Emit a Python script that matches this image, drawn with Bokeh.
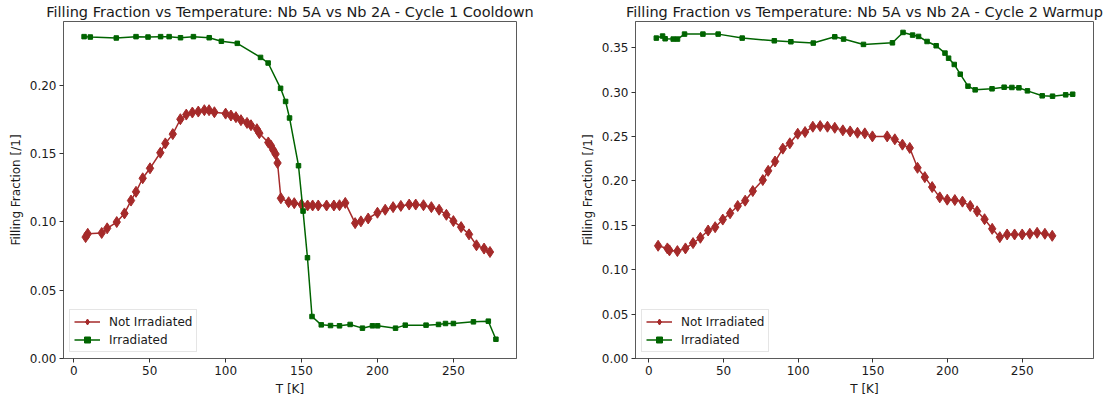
from bokeh.plotting import figure
from bokeh.layouts import row
from bokeh.models import Range1d, FixedTicker, NumeralTickFormatter, Legend, LegendItem
from bokeh.embed import file_html
from bokeh.resources import INLINE

# ---------------- data ----------------
# Cycle 1 Cooldown
c1_T_not_irr = [7.8, 9.2, 18.4, 22.0, 28.3, 33.4, 37.7, 41.0, 45.4, 50.2,
                57.0, 60.3, 65.2, 70.2, 74.1, 78.1, 82.0, 86.0, 89.1, 92.6,
                100.0, 103.5, 106.8, 110.1, 114.1, 116.7, 120.6, 122.2, 128.1, 129.8,
                131.4, 132.9, 134.2, 136.4, 141.5, 145.2, 150.0, 154.0, 157.3, 161.0,
                166.5, 171.3, 175.0, 178.8, 185.3, 189.1, 193.9, 200.0, 205.1, 210.3,
                215.4, 220.9, 225.2, 230.3, 235.5, 240.6, 245.4, 250.0, 255.1, 260.3,
                265.2, 270.2, 274.1]
c1_ff_not_irr = [0.0888, 0.0912, 0.0918, 0.0952, 0.0998, 0.1061, 0.1155, 0.1219, 0.1318, 0.1391,
                 0.1505, 0.1573, 0.1641, 0.1750, 0.1784, 0.1799, 0.1806, 0.1816, 0.1816, 0.1801,
                 0.1791, 0.1777, 0.1765, 0.1743, 0.1723, 0.1706, 0.1677, 0.1648, 0.1580, 0.1558,
                 0.1524, 0.1495, 0.1430, 0.1172, 0.1143, 0.1136, 0.1126, 0.1119, 0.1119, 0.1119,
                 0.1119, 0.1119, 0.1121, 0.1138, 0.0990, 0.1003, 0.1024, 0.1066, 0.1088, 0.1107,
                 0.1116, 0.1126, 0.1126, 0.1121, 0.1107, 0.1088, 0.1051, 0.1005, 0.0961, 0.0908,
                 0.0828, 0.0804, 0.0779]
c1_T_irr = [6.8, 10.9, 28.0, 41.0, 48.9, 57.2, 62.8, 70.3, 78.8, 89.2,
            97.2, 107.7, 123.0, 128.0, 136.2, 139.5, 142.1, 148.0, 151.0, 153.9,
            156.9, 163.0, 169.1, 175.0, 182.0, 190.1, 196.7, 200.1, 211.9, 218.3,
            232.0, 240.2, 244.8, 250.0, 263.2, 273.0, 278.0]
c1_ff_irr = [0.2354, 0.2351, 0.2344, 0.2354, 0.2351, 0.2354, 0.2354, 0.2346, 0.2354, 0.2346,
             0.2320, 0.2305, 0.2202, 0.2161, 0.1976, 0.1880, 0.1759, 0.1410, 0.1078, 0.0737,
             0.0307, 0.0246, 0.0241, 0.0239, 0.0249, 0.0222, 0.0239, 0.0239, 0.0222, 0.0244,
             0.0244, 0.0249, 0.0256, 0.0256, 0.0268, 0.0273, 0.0141]

# Cycle 2 Warmup
c2_T_not_irr = [6.2, 12.4, 13.8, 19.1, 24.5, 29.6, 34.5, 39.7, 44.4, 49.5,
                54.4, 59.5, 64.5, 69.6, 76.3, 79.9, 84.5, 89.7, 94.4, 99.7,
                104.6, 109.8, 114.7, 119.6, 124.5, 129.9, 134.8, 139.7, 144.6, 149.7,
                159.6, 164.7, 169.8, 174.7, 179.9, 184.8, 189.7, 194.8, 199.8, 204.9,
                210.0, 215.2, 219.8, 224.8, 229.9, 235.0, 239.9, 244.9, 250.0, 255.1,
                260.0, 265.2, 270.1]
c2_ff_not_irr = [0.1270, 0.1240, 0.1218, 0.1210, 0.1240, 0.1300, 0.1360, 0.1442, 0.1479, 0.1565,
                 0.1636, 0.1718, 0.1778, 0.1886, 0.2010, 0.2114, 0.2219, 0.2364, 0.2424, 0.2532,
                 0.2551, 0.2611, 0.2618, 0.2611, 0.2599, 0.2570, 0.2558, 0.2543, 0.2536, 0.2502,
                 0.2502, 0.2469, 0.2409, 0.2372, 0.2148, 0.2043, 0.1931, 0.1815, 0.1789, 0.1785,
                 0.1767, 0.1718, 0.1658, 0.1569, 0.1461, 0.1367, 0.1397, 0.1397, 0.1397, 0.1405,
                 0.1416, 0.1405, 0.1382]
c2_T_irr = [5.0, 9.2, 10.9, 16.3, 19.2, 23.9, 36.2, 46.4, 62.5, 84.0,
            95.1, 110.1, 124.5, 130.4, 143.7, 163.1, 170.2, 176.6, 180.6, 186.3,
            192.4, 198.3, 200.7, 204.5, 208.5, 213.7, 218.5, 229.8, 237.9, 243.1,
            247.8, 253.5, 263.4, 270.3, 279.1, 283.8]
c2_ff_irr = [0.3609, 0.3632, 0.3602, 0.3598, 0.3598, 0.3654, 0.3654, 0.3654, 0.3609, 0.3579,
             0.3568, 0.3553, 0.3624, 0.3598, 0.3538, 0.3556, 0.3673, 0.3643, 0.3628, 0.3571,
             0.3523, 0.3440, 0.3383, 0.3312, 0.3203, 0.3068, 0.3026, 0.3038, 0.3056, 0.3053,
             0.3049, 0.3015, 0.2959, 0.2955, 0.2970, 0.2977]

x_ticks = [0, 50, 100, 150, 200, 250]
y_ticks_c1 = [0.00, 0.05, 0.10, 0.15, 0.20]
y_ticks_c2 = [0.00, 0.05, 0.10, 0.15, 0.20, 0.25, 0.30, 0.35]

labels = ["Not Irradiated", "Irradiated"]
titles = ["Filling Fraction vs Temperature: Nb 5A vs Nb 2A - Cycle 1 Cooldown",
          "Filling Fraction vs Temperature: Nb 5A vs Nb 2A - Cycle 2 Warmup"]

# ---------------- style ----------------
RED = "#a52a2a"
GREEN = "#006400"
FONT = "DejaVu Sans"
SPINE = "#5a5a5a"
TXT = "#1a1a1a"


def make(title, T_a, y_a, T_b, y_b, yticks, b_left, frame_w, b_right):
    allx = T_a + T_b
    ally = y_a + y_b
    xmin, xmax = min(allx), max(allx)
    ymin, ymax = min(ally), max(ally)
    xpad = 0.05 * (xmax - xmin)
    ypad = 0.05 * (ymax - ymin)
    p = figure(frame_width=frame_w, frame_height=337,
               min_border_left=b_left, min_border_right=b_right,
               min_border_top=21, min_border_bottom=44,
               x_range=Range1d(xmin - xpad, xmax + xpad),
               y_range=Range1d(0, ymax + ypad),
               output_backend="svg", toolbar_location=None)
    p.title.text = title
    p.title.align = "center"
    p.title.text_font = FONT
    p.title.text_font_size = "14.5px"
    p.title.text_font_style = "normal"
    p.title.text_color = TXT
    p.title.standoff = 3

    p.xgrid.visible = False
    p.ygrid.visible = False
    p.outline_line_color = SPINE
    p.outline_line_width = 1
    p.outline_line_alpha = 1
    p.background_fill_color = "white"
    p.border_fill_color = "white"

    p.xaxis.ticker = FixedTicker(ticks=x_ticks)
    p.yaxis.ticker = FixedTicker(ticks=yticks)
    p.yaxis.formatter = NumeralTickFormatter(format="0.00")
    p.xaxis.axis_label = "T [K]"
    p.yaxis.axis_label = "Filling Fraction [/1]"
    for ax in (p.xaxis, p.yaxis):
        ax.axis_line_color = SPINE
        ax.major_tick_line_color = "#333333"
        ax.major_tick_out = 4
        ax.major_tick_in = 0
        ax.minor_tick_out = 0
        ax.minor_tick_in = 0
        ax.major_label_text_font = FONT
        ax.major_label_text_font_size = "12px"
        ax.major_label_text_color = TXT
        ax.axis_label_text_font = FONT
        ax.axis_label_text_font_size = "12px"
        ax.axis_label_text_font_style = "normal"
        ax.axis_label_text_color = TXT
        ax.major_label_standoff = 3
        ax.axis_label_standoff = 4

    l1 = p.line(T_a, y_a, line_color=RED, line_width=1.5)
    s1 = p.scatter(T_a, y_a, marker="diamond", size=11, fill_color=RED,
                   line_color=RED, line_width=1)
    l2 = p.line(T_b, y_b, line_color=GREEN, line_width=1.5)
    s2 = p.scatter(T_b, y_b, marker="square", size=4.5, fill_color=GREEN,
                   line_color=GREEN, line_width=1)

    leg = Legend(items=[LegendItem(label=labels[0], renderers=[l1, s1]),
                        LegendItem(label=labels[1], renderers=[l2, s2])],
                 location="bottom_left")
    leg.margin = 6
    leg.padding = 4
    leg.spacing = 3
    leg.glyph_width = 26
    leg.glyph_height = 15
    leg.label_height = 15
    leg.label_standoff = 9
    leg.label_text_font = FONT
    leg.label_text_font_size = "12px"
    leg.label_text_color = TXT
    leg.border_line_color = "#cccccc"
    leg.border_line_width = 1
    leg.background_fill_color = "white"
    leg.background_fill_alpha = 0.8
    p.add_layout(leg)
    return p


p1 = make(titles[0], c1_T_not_irr, c1_ff_not_irr, c1_T_irr, c1_ff_irr,
          y_ticks_c1, 63, 453, 44)
p2 = make(titles[1], c2_T_not_irr, c2_ff_not_irr, c2_T_irr, c2_ff_irr,
          y_ticks_c2, 75, 458, 21)

layout = row(p1, p2)
open("out.html", "w").write(file_html(layout, INLINE))
